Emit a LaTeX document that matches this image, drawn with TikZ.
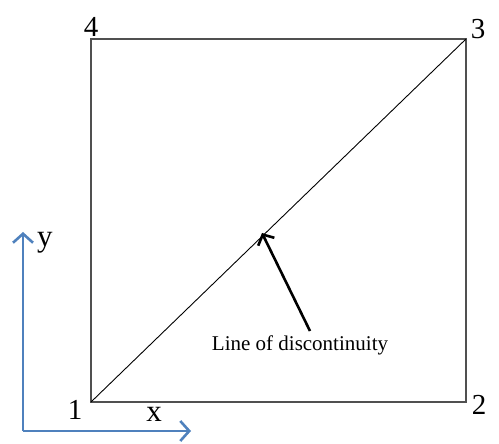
\documentclass[tikz,border=0pt]{standalone}
\usepackage{fontspec}
\setmainfont{Liberation Serif}
\usetikzlibrary{arrows.meta}
\definecolor{axisblue}{HTML}{4F81BD}
\definecolor{edgegray}{HTML}{505050}
\begin{document}
\begin{tikzpicture}[x=1pt,y=-1pt,
  edge/.style={draw=edgegray,line width=1.8pt},
  diag/.style={draw=black,line width=0.9pt},
  axis/.style={draw=axisblue,line width=2.6pt,-{Straight Barb[length=9pt,width=20pt,line width=2.6pt]}},
  pointer/.style={draw=black,line width=2.6pt,-{Straight Barb[length=8pt,width=18pt,line width=2.6pt]}},
  corner/.style={font=\fontsize{29}{29}\selectfont,inner sep=0pt},
  axlabel/.style={font=\fontsize{31}{31}\selectfont,inner sep=0pt},
  note/.style={font=\fontsize{21}{21}\selectfont,inner sep=0pt}]
\useasboundingbox (0,0) rectangle (499,444);
\coordinate (p1) at (91,402);
\coordinate (p2) at (466,402);
\coordinate (p3) at (466,39);
\coordinate (p4) at (91,39);
\draw[edge] (p1) -- (p2) -- (p3) -- (p4) -- cycle;
\draw[diag] (p1) -- (p3);
\coordinate (hit) at (262,233);
\node[corner] (l1) at (75,410) {1};
\node[corner] (l2) at (479,405) {2};
\node[corner] (l3) at (478,29) {3};
\node[corner] (l4) at (91,27) {4};
\node[note] (txt) at (300,345) {Line of discontinuity};
\draw[pointer] (310,331) -- (hit);
\coordinate (o) at (23,431);
\coordinate (yt) at (23,232);
\coordinate (xt) at (191,431);
\draw[axis] (o) -- (yt);
\draw[axis] (o) -- (xt);
\node[axlabel] (ly) at (45,243) {y};
\node[axlabel] (lx) at (154,414) {x};
\end{tikzpicture}
\end{document}
